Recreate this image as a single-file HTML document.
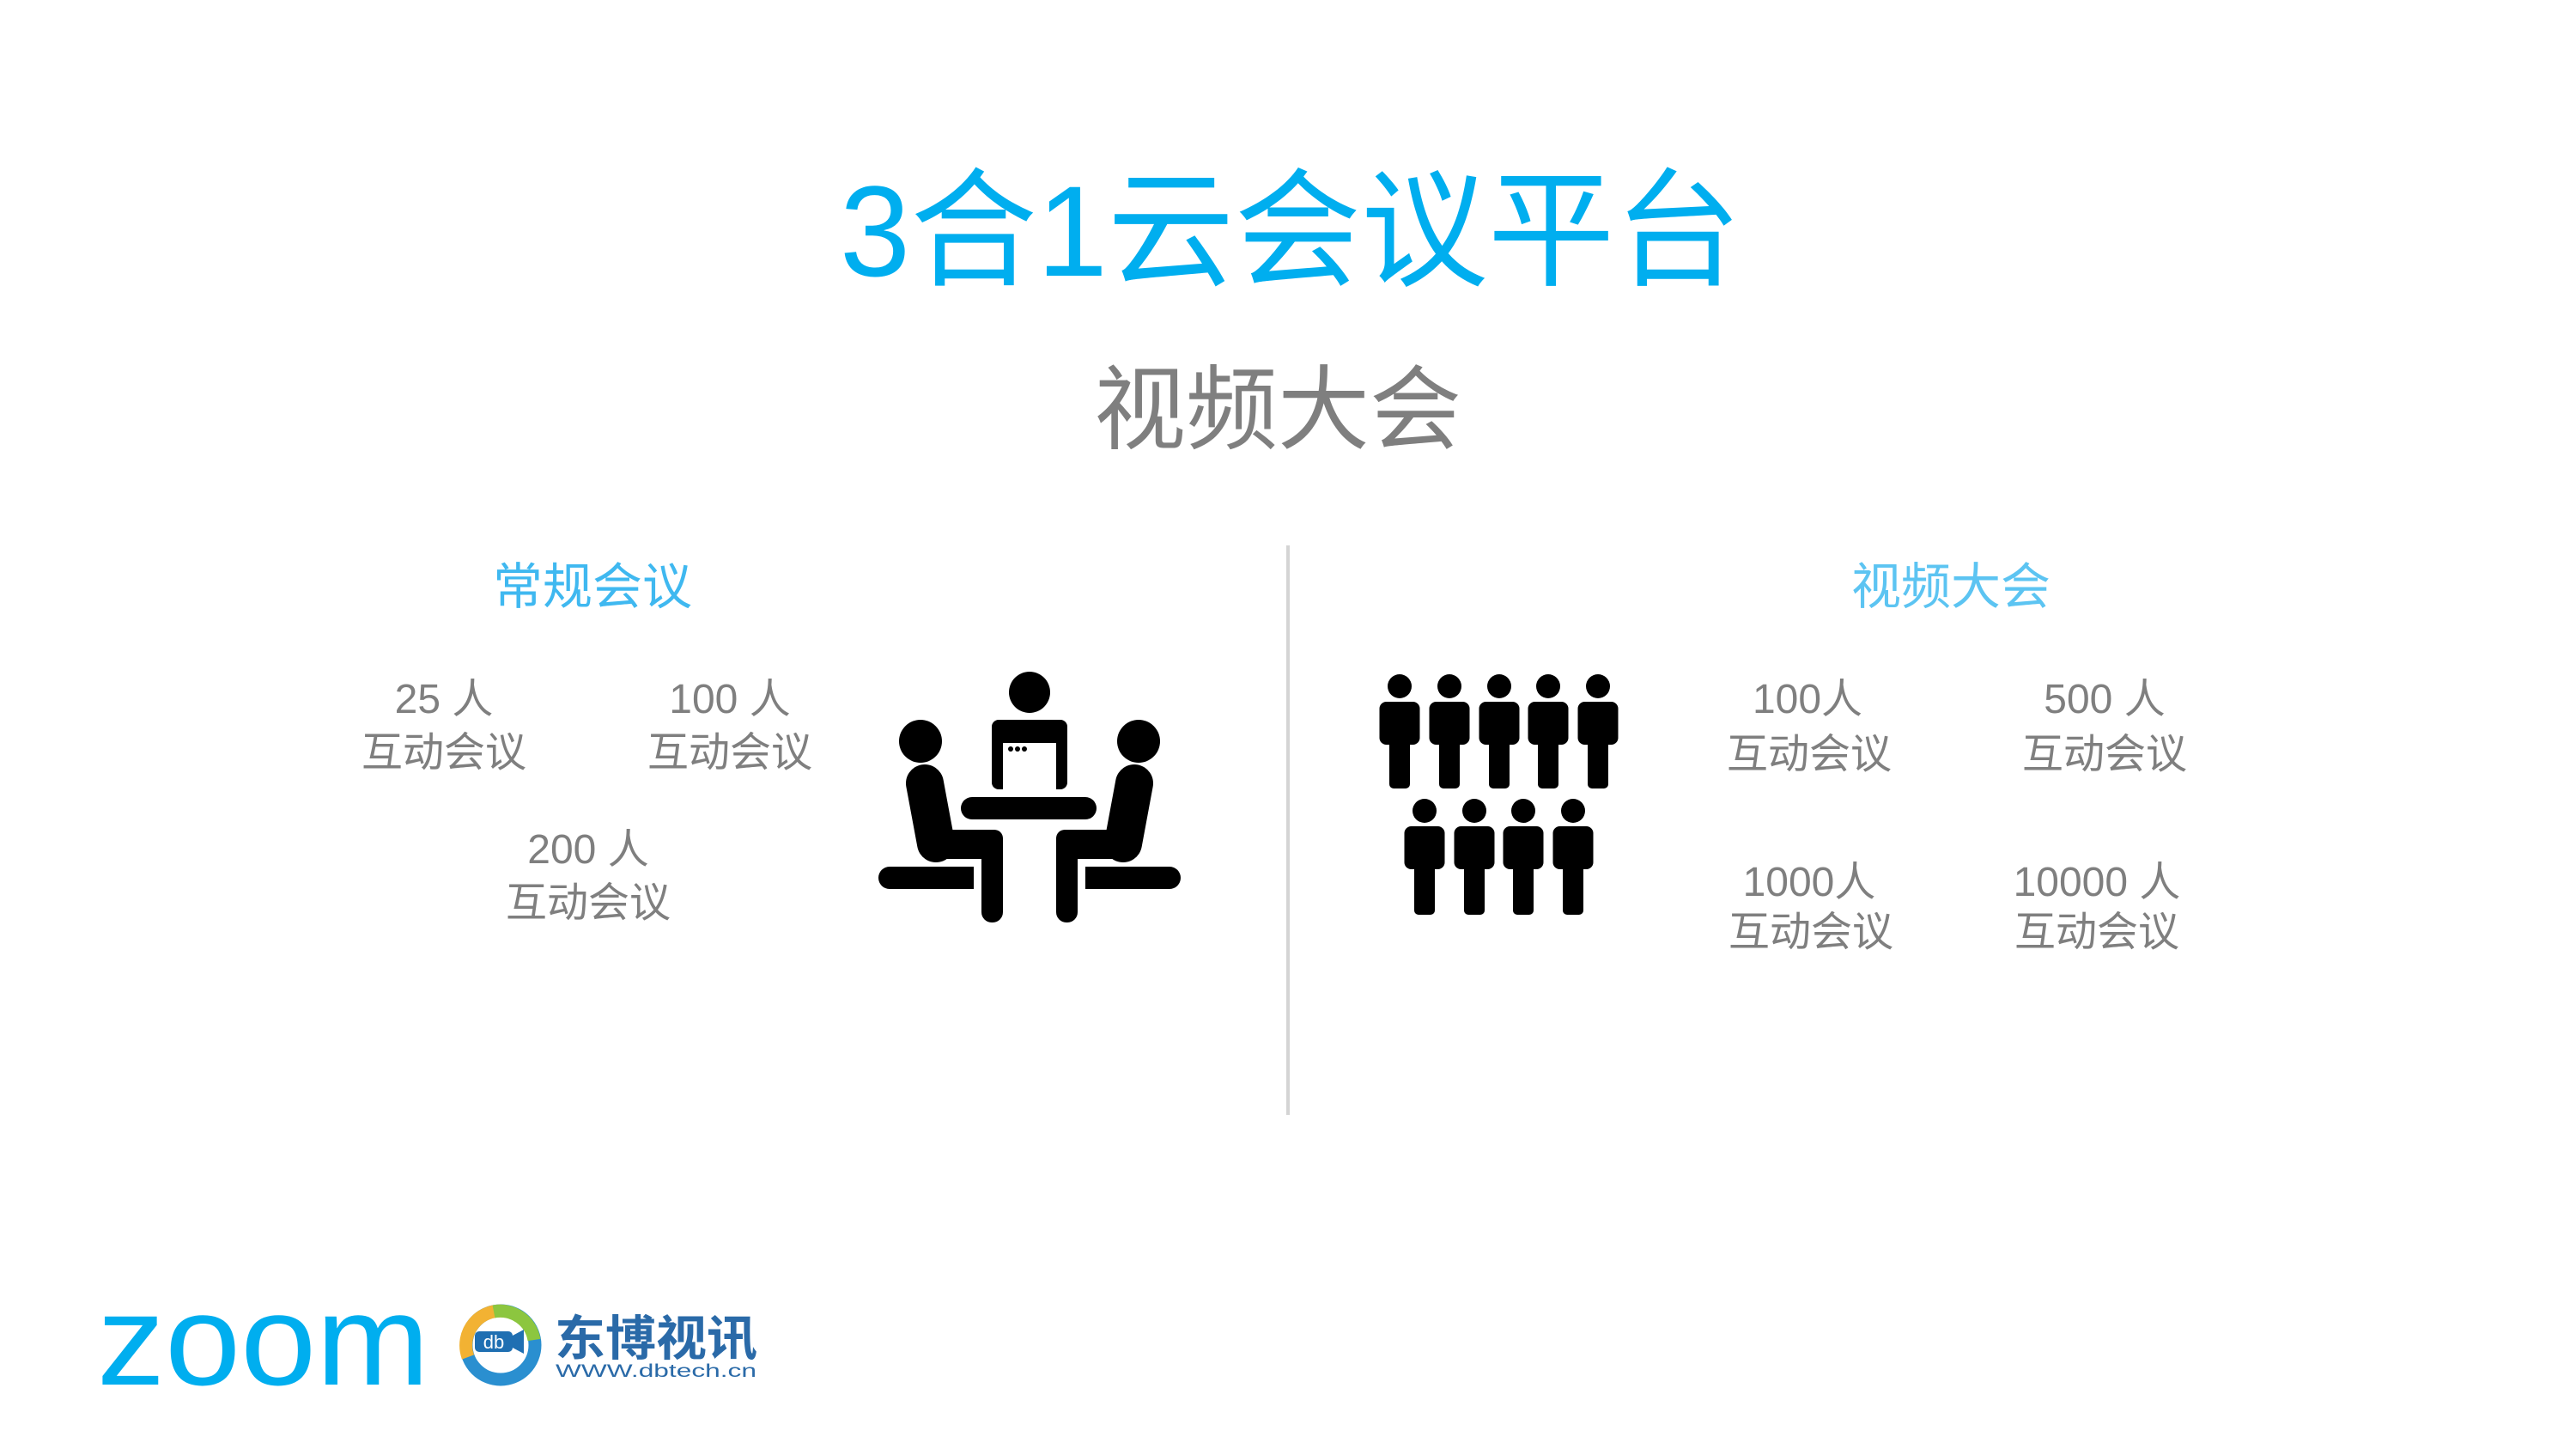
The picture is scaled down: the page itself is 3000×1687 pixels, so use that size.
<!DOCTYPE html>
<html><head><meta charset="utf-8"><style>
html,body{margin:0;padding:0;background:#fff;}
svg{display:block;}
.cj{font-family:"Liberation Sans","Noto Sans CJK SC",sans-serif;}
</style></head><body>
<svg width="3000" height="1687" viewBox="0 0 3000 1687" xmlns="http://www.w3.org/2000/svg">
<rect width="3000" height="1687" fill="#fff"/>
<text class="cj" x="1503" y="321" font-size="150" fill="#00AEEF" text-anchor="middle" textLength="1050" lengthAdjust="spacingAndGlyphs">3合1云会议平台</text>
<text class="cj" x="1488" y="514" font-size="107" fill="#7f7f7f" text-anchor="middle">视频大会</text>
<rect x="1498" y="635" width="4" height="663" fill="#d4d4d4"/>
<text class="cj" x="690" y="703" font-size="58" fill="#3fb8f0" text-anchor="middle">常规会议</text>
<text class="cj" x="2272" y="703" font-size="58" fill="#5cc4f2" text-anchor="middle">视频大会</text>
<g class="cj" font-size="48" fill="#7f7f7f" text-anchor="middle">
<text x="517" y="830">25  人</text><text x="517" y="892">互动会议</text>
<text x="850" y="830">100  人</text><text x="850" y="892">互动会议</text>
<text x="685" y="1005">200  人</text><text x="685" y="1067">互动会议</text>
<text x="2105" y="830">100人</text><text x="2107" y="894">互动会议</text>
<text x="2451" y="830">500  人</text><text x="2451" y="894">互动会议</text>
<text x="2107" y="1043">1000人</text><text x="2109" y="1101">互动会议</text>
<text x="2442" y="1043">10000  人</text><text x="2442" y="1101">互动会议</text>
</g>
<!-- meeting icon -->
<g fill="#000">
<circle cx="1199" cy="806" r="24"/>
<rect x="1155" y="838" width="88" height="81" rx="8"/>
<rect x="1168" y="865" width="62" height="60" fill="#fff"/>
<circle cx="1177" cy="872" r="3"/><circle cx="1185" cy="872" r="3"/><circle cx="1193" cy="872" r="3"/>
<rect x="1119" y="928" width="158" height="26" rx="13"/>
<g id="sp">
<circle cx="1072" cy="863" r="25"/>
<line x1="1077" y1="912" x2="1090" y2="982" stroke="#000" stroke-width="44" stroke-linecap="round"/>
<rect x="1080" y="966" width="88" height="34" rx="10"/>
<rect x="1143" y="966" width="25" height="108" rx="12"/>
<rect x="1023" y="1009" width="111" height="26" rx="13"/>
<rect x="1110" y="1009" width="24" height="26"/>
</g>
<use href="#sp" transform="translate(2398,0) scale(-1,1)"/>
</g>
<!-- crowd -->
<g fill="#000">
<g transform="translate(1630,0)"><circle cx="0" cy="799" r="14"/><rect x="-23.5" y="817" width="47" height="50" rx="8"/><rect x="-12" y="860" width="24" height="58" rx="5"/></g>
<g transform="translate(1688,0)"><circle cx="0" cy="799" r="14"/><rect x="-23.5" y="817" width="47" height="50" rx="8"/><rect x="-12" y="860" width="24" height="58" rx="5"/></g>
<g transform="translate(1746,0)"><circle cx="0" cy="799" r="14"/><rect x="-23.5" y="817" width="47" height="50" rx="8"/><rect x="-12" y="860" width="24" height="58" rx="5"/></g>
<g transform="translate(1803,0)"><circle cx="0" cy="799" r="14"/><rect x="-23.5" y="817" width="47" height="50" rx="8"/><rect x="-12" y="860" width="24" height="58" rx="5"/></g>
<g transform="translate(1861,0)"><circle cx="0" cy="799" r="14"/><rect x="-23.5" y="817" width="47" height="50" rx="8"/><rect x="-12" y="860" width="24" height="58" rx="5"/></g>
<g transform="translate(1659,145)"><circle cx="0" cy="799" r="14"/><rect x="-23.5" y="817" width="47" height="50" rx="8"/><rect x="-12" y="860" width="24" height="60" rx="5"/></g>
<g transform="translate(1717,145)"><circle cx="0" cy="799" r="14"/><rect x="-23.5" y="817" width="47" height="50" rx="8"/><rect x="-12" y="860" width="24" height="60" rx="5"/></g>
<g transform="translate(1774,145)"><circle cx="0" cy="799" r="14"/><rect x="-23.5" y="817" width="47" height="50" rx="8"/><rect x="-12" y="860" width="24" height="60" rx="5"/></g>
<g transform="translate(1832,145)"><circle cx="0" cy="799" r="14"/><rect x="-23.5" y="817" width="47" height="50" rx="8"/><rect x="-12" y="860" width="24" height="60" rx="5"/></g>
</g>
<!-- logos -->
<text x="113" y="1612" font-family="Liberation Sans, sans-serif" font-size="150" fill="#00AEEF" textLength="387" lengthAdjust="spacingAndGlyphs">zoom</text>
<circle cx="583" cy="1566" r="40" fill="none" stroke="#2a8fd0" stroke-width="15"/>
<path d="M545 1580 A40 40 0 0 1 590 1527" fill="none" stroke="#f2b233" stroke-width="15"/>
<path d="M575 1527 A40 40 0 0 1 622 1560" fill="none" stroke="#8cc63f" stroke-width="15"/>
<rect x="553" y="1550" width="44" height="24" rx="5" fill="#1f6fb2"/>
<polygon points="595,1556 610,1548 610,1576 595,1568" fill="#1f6fb2"/>
<text x="575" y="1570" font-family="Liberation Sans, sans-serif" font-size="22" fill="#fff" text-anchor="middle">db</text>
<text class="cj" x="646" y="1578" font-size="56" font-weight="bold" fill="#2a6aa8" textLength="236" lengthAdjust="spacingAndGlyphs">东博视讯</text>
<text x="647" y="1603" font-family="Liberation Sans, sans-serif" font-size="21" fill="#2a6aa8" textLength="234" lengthAdjust="spacingAndGlyphs">WWW.dbtech.cn</text>
</svg>
</body></html>
